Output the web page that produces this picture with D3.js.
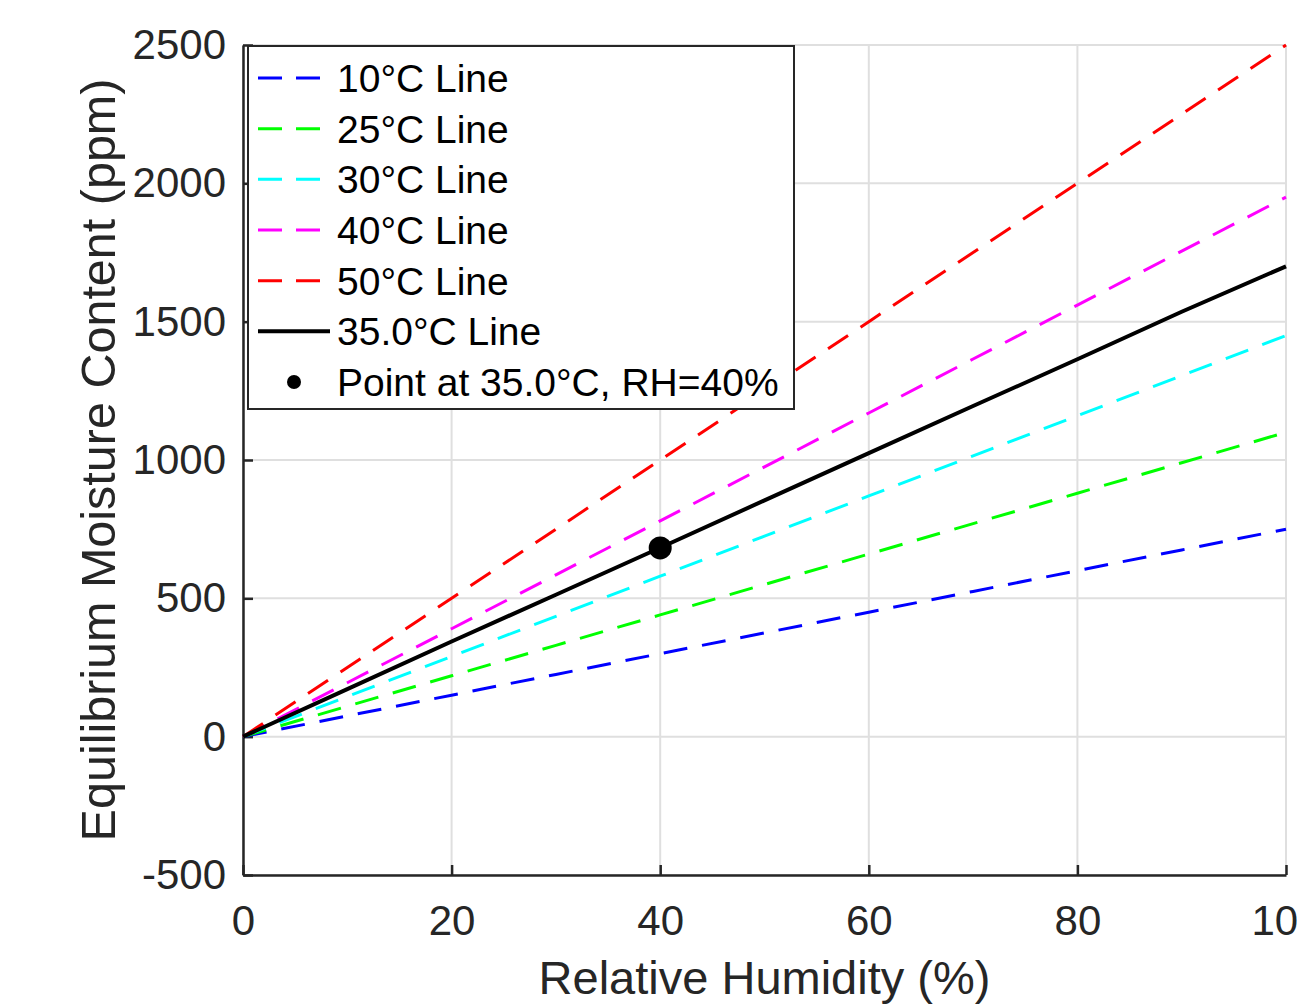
<!DOCTYPE html>
<html>
<head>
<meta charset="utf-8">
<script src="https://cdn.jsdelivr.net/npm/d3@7"></script>
<style>
  body { margin: 0; background: #fff; }
  text { font-family: "Liberation Sans", Arial, sans-serif; }
</style>
</head>
<body>
<div id="chart"></div>
<script>
// data
var rh = [0, 10, 20, 30, 40, 50, 60, 70, 80, 90, 100];
var emc10 = [0, 75, 150, 225, 300, 375, 450, 525, 600, 675, 750];
var emc25 = [0, 110, 220, 330, 440, 550, 660, 770, 880, 990, 1100];
var emc30 = [0, 145, 290, 435, 580, 725, 870, 1015, 1160, 1305, 1450];
var emc40 = [0, 195, 390, 585, 780, 975, 1170, 1365, 1560, 1755, 1950];
var emc50 = [0, 250, 500, 750, 1000, 1250, 1500, 1750, 2000, 2250, 2500];
var emc35 = [0, 172, 344, 513, 683, 854, 1025, 1195, 1364, 1536, 1700];
var pointRH = 40, pointEMC = 682;

var xTicks = [0, 20, 40, 60, 80, 100];
var yTicks = [-500, 0, 500, 1000, 1500, 2000, 2500];

var dashed = [
  {name: "10°C Line", color: "#0000ff", values: emc10},
  {name: "25°C Line", color: "#00ff00", values: emc25},
  {name: "30°C Line", color: "#00ffff", values: emc30},
  {name: "40°C Line", color: "#ff00ff", values: emc40},
  {name: "50°C Line", color: "#ff0000", values: emc50}
];

var W = 1297, H = 1006;
var svg = d3.select("#chart").append("svg")
  .attr("width", W).attr("height", H);

var x = d3.scaleLinear().domain([0, 100]).range([243, 1286]);
var y = d3.scaleLinear().domain([-500, 2500]).range([875, 45]);

// grid
svg.append("g").selectAll("line").data(xTicks).join("line")
  .attr("x1", d => x(d)).attr("x2", d => x(d))
  .attr("y1", y(-500)).attr("y2", y(2500))
  .attr("stroke", "#dfdfdf").attr("stroke-width", 2);
svg.append("g").selectAll("line").data(yTicks).join("line")
  .attr("x1", x(0)).attr("x2", x(100))
  .attr("y1", d => y(d)).attr("y2", d => y(d))
  .attr("stroke", "#dfdfdf").attr("stroke-width", 2);

// axes
var fmt = d => String(d);
var gx = svg.append("g").attr("transform", "translate(0," + y(-500) + ")")
  .call(d3.axisBottom(x).tickValues(xTicks).tickFormat(fmt)
    .tickSizeInner(-10).tickSizeOuter(0).tickPadding(30));
var gy = svg.append("g").attr("transform", "translate(" + x(0) + ",0)")
  .call(d3.axisLeft(y).tickValues(yTicks).tickFormat(fmt)
    .tickSizeInner(-10).tickSizeOuter(0).tickPadding(17));
[gx, gy].forEach(function(g) {
  g.select(".domain").attr("stroke", "#262626").attr("stroke-width", 2.5);
  g.selectAll(".tick line").attr("stroke", "#262626").attr("stroke-width", 2.5);
  g.selectAll(".tick text").attr("fill", "#262626")
    .style("font-size", "42px").style("font-family", "'Liberation Sans', Arial, sans-serif");
});
gx.selectAll(".tick text").attr("dy", "0.71em");

var line = d3.line().x((d, i) => x(rh[i])).y(d => y(d));

svg.append("g").selectAll("path").data(dashed).join("path")
  .attr("d", d => line(d.values))
  .attr("fill", "none").attr("stroke", d => d.color)
  .attr("stroke-width", 3).attr("stroke-dasharray", "24,15");

svg.append("path").attr("d", line(emc35))
  .attr("fill", "none").attr("stroke", "#000").attr("stroke-width", 4);

svg.append("circle").attr("cx", x(pointRH)).attr("cy", y(pointEMC))
  .attr("r", 11.5).attr("fill", "#000");

// axis labels
svg.append("text").attr("x", x(50)).attr("y", 994)
  .attr("text-anchor", "middle").attr("fill", "#262626")
  .style("font-size", "47px").text("Relative Humidity (%)");
svg.append("text")
  .attr("transform", "translate(115," + y(1000) + ") rotate(-90)")
  .attr("text-anchor", "middle").attr("fill", "#262626")
  .style("font-size", "48.5px").text("Equilibrium Moisture Content (ppm)");

// legend
var lg = svg.append("g");
lg.append("rect").attr("x", 248).attr("y", 46).attr("width", 546).attr("height", 363)
  .attr("fill", "#fff").attr("stroke", "#262626").attr("stroke-width", 2);
var entries = dashed.map(d => ({name: d.name, color: d.color, kind: "dash"}))
  .concat([{name: "35.0°C Line", color: "#000", kind: "solid"},
           {name: "Point at 35.0°C, RH=40%", color: "#000", kind: "dot"}]);
var ey = d3.scalePoint().domain(d3.range(entries.length)).range([78, 382]);
var items = lg.selectAll("g.item").data(entries).join("g")
  .attr("class", "item").attr("transform", (d, i) => "translate(0," + ey(i) + ")");
items.filter(d => d.kind === "dash").append("line")
  .attr("x1", 258).attr("x2", 320).attr("y1", 0).attr("y2", 0)
  .attr("stroke", d => d.color).attr("stroke-width", 3).attr("stroke-dasharray", "24,14");
items.filter(d => d.kind === "solid").append("line")
  .attr("x1", 258).attr("x2", 330).attr("y1", 0).attr("y2", 0)
  .attr("stroke", "#000").attr("stroke-width", 4);
items.filter(d => d.kind === "dot").append("circle")
  .attr("cx", 294).attr("cy", 0).attr("r", 7).attr("fill", "#000");
items.append("text").attr("x", 337).attr("y", 0).attr("dy", "0.36em")
  .attr("fill", "#000").style("font-size", "39px").text(d => d.name);
</script>
</body>
</html>
